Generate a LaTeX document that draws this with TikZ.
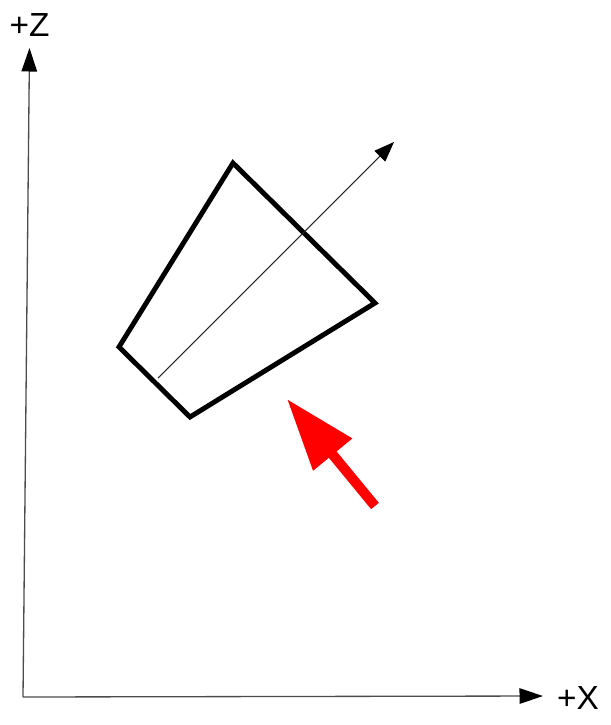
\documentclass[tikz,border=0pt]{standalone}
\usepackage{fontspec}
\setmainfont{Liberation Sans}
\usetikzlibrary{arrows.meta}

\begin{document}
\begin{tikzpicture}
[x=0.02cm,y=-0.02cm,
 axis/.style={draw=black!70,line width=0.75pt,-{Triangle[length=0.47cm,width=0.31cm,black]}},
 frame/.style={line width=2.8pt,line join=miter},
 normal/.style={line width=0.6pt,black!85,-{Triangle[length=0.4cm,width=0.3cm,black]}},
 push/.style={red,line width=0.2cm,-{Triangle[length=1.44cm,width=0.96cm]}},
 lab/.style={inner sep=0pt,font=\fontsize{19}{21}\selectfont}]
\useasboundingbox (0,0) rectangle (611,725);
\coordinate (o) at (23,697);
\coordinate (ztip) at (29.5,48);
\coordinate (xtip) at (543,696);
\node[lab] (zlab) at (29.5,25) {+Z};
\node[lab] (xlab) at (578,698) {+X};
\foreach \to in {ztip,xtip}
\draw[axis] (o) -- (\to);

\coordinate (p1) at (233,163);
\coordinate (p2) at (375,303);
\coordinate (p3) at (190,417);
\coordinate (p4) at (119,347);
\draw[frame] (p1) -- (p2) -- (p3) -- (p4) -- cycle;

\coordinate (n0) at (158,378);
\coordinate (n1) at (394,142);
\draw[normal] (n0) -- (n1);

\coordinate (r0) at (375,506);
\coordinate (r1) at (287,399);
\draw[push] (r0) -- (r1);
\end{tikzpicture}
\end{document}
